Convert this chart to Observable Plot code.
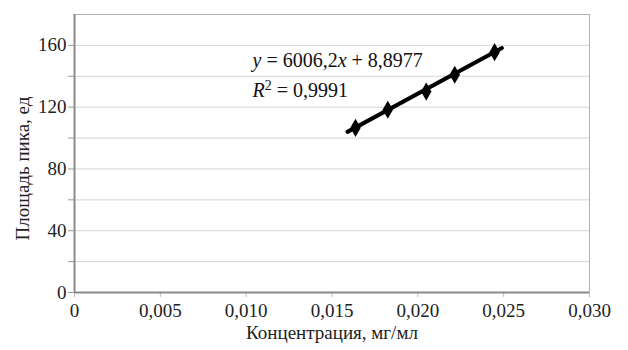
<!DOCTYPE html>
<html><head><meta charset="utf-8">
<script src="https://cdn.jsdelivr.net/npm/d3@7"></script>
<script src="https://cdn.jsdelivr.net/npm/@observablehq/plot@0.6"></script>
<style>
body{margin:0;background:#fff}
#chart svg, #chart svg text { font-family: 'Liberation Serif', 'DejaVu Serif', serif !important; }
</style>
</head><body><div id="chart"></div>
<script>
const concX = [0.01637, 0.01825, 0.02049, 0.02215, 0.02447];
const areaY = [106.6, 118.3, 130.1, 141.0, 155.6];
const trendX = [0.0159, 0.0249];
const trendY = [104, 158.3];
const xTicks = [0, 0.005, 0.010, 0.015, 0.020, 0.025, 0.030];
const yTicks = [0, 20, 40, 60, 80, 100, 120, 140, 160];
const yLabelTicks = [0, 40, 80, 120, 160];
const eqText = ["y = 6006,2x + 8,8977", "R2 = 0,9991"];
const eqX = [0.01037, 0.01037];
const eqY = [145.7, 126.3];
const xTitle = "Концентрация, мг/мл";
const yTitle = "Площадь пика, ед";

const points = concX.map((x, i) => ({x, y: areaY[i]}));
const trend = trendX.map((x, i) => ({x, y: trendY[i]}));
const eq = eqText.map((t, i) => ({t, x: eqX[i], y: eqY[i]}));
const fmtX = d => d === 0 ? "0" : d.toFixed(3).replace(".", ",");

const chart = Plot.plot({
  width: 628, height: 350,
  marginLeft: 74, marginRight: 39, marginTop: 14, marginBottom: 58,
  style: "font-family: 'Liberation Serif', serif; font-size: 19px; color: #222; background: #fff;",
  x: {domain: [0, 0.030]},
  y: {domain: [0, 180]},
  marks: [
    Plot.gridY(yTicks.filter(d => d > 0), {stroke: "#d4d4d4", strokeOpacity: 1, strokeWidth: 1}),
    Plot.frame({stroke: "#b0b0b0", strokeWidth: 1}),
    Plot.axisY(yTicks, {tickSize: 6, tickPadding: 2, stroke: "#999", tickFormat: d => yLabelTicks.includes(d) ? String(d) : "", label: null, fontSize: 19, fill: "#222"}),
    Plot.axisX(xTicks, {tickSize: 5, tickPadding: 6, stroke: "#bbb", tickFormat: fmtX, label: null, fontSize: 19, fill: "#222"}),
    Plot.ruleX([0], {stroke: "#8a8a8a", strokeWidth: 2}),
    Plot.ruleY([0], {stroke: "#8a8a8a", strokeWidth: 2}),
    Plot.line(trend, {x: "x", y: "y", stroke: "#000", strokeWidth: 4}),
    Plot.dot(points, {x: "x", y: "y", symbol: "diamond", fill: "#000", r: 5.5}),
    Plot.text(eq, {x: "x", y: "y", text: "t", textAnchor: "start", lineAnchor: "bottom", fontSize: 20, fill: "#111"}),
    Plot.text([xTitle], {frameAnchor: "bottom", textAnchor: "middle", dy: 46, fontSize: 19, fill: "#222"}),
    Plot.text([yTitle], {frameAnchor: "left", textAnchor: "middle", dx: -52, dy: 15, rotate: -90, fontSize: 19, fill: "#222"})
  ]
});
document.getElementById("chart").append(chart);

// rich formatting of the equation text (italic variables, superscript)
d3.select(chart).selectAll("text").each(function() {
  const el = d3.select(this);
  const s = this.textContent;
  if (s === eqText[0]) {
    el.text(null);
    el.append("tspan").attr("font-style", "italic").text("y");
    el.append("tspan").text(" = 6006,2");
    el.append("tspan").attr("font-style", "italic").text("x");
    el.append("tspan").text(" + 8,8977");
  } else if (s === eqText[1]) {
    el.text(null);
    el.append("tspan").attr("font-style", "italic").text("R");
    el.append("tspan").attr("font-size", "14px").attr("dy", "-7").text("2");
    el.append("tspan").attr("dy", "7").text(" = 0,9991");
  }
});
</script>
</body></html>
